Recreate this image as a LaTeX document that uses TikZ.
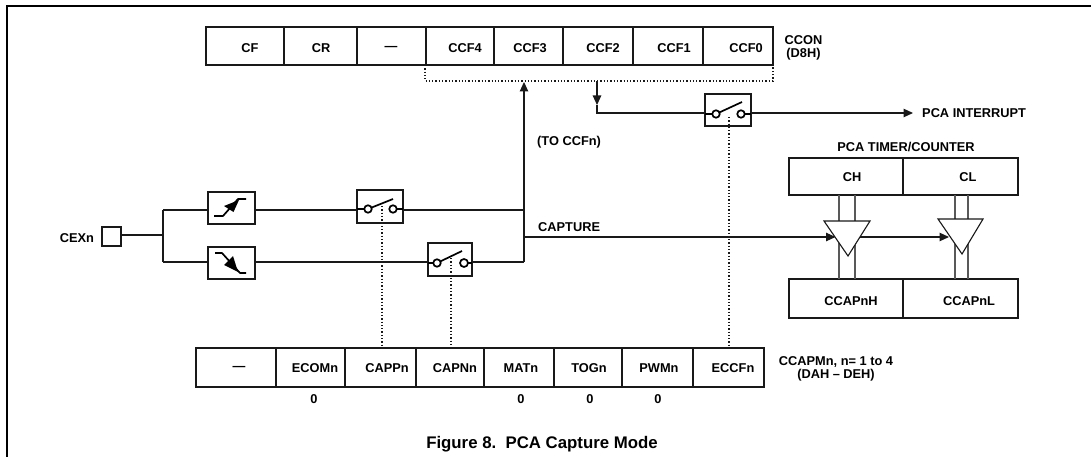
\documentclass[tikz,border=0pt]{standalone}
\usepackage{fontspec}
\setmainfont{Liberation Sans}
\usetikzlibrary{arrows.meta}
\tikzset{
  ink/.style={draw=black!90},
  cell/.style={ink,line width=1.6pt,rectangle,inner sep=0pt,outer sep=0pt,anchor=north west},
  lbl/.style={inner sep=0pt,font=\fontsize{12.8}{14.4}\selectfont\bfseries,text=black,align=center},
  lblw/.style={lbl,anchor=west},
  wire/.style={ink,line width=1.05pt},
  bus/.style={draw=black!65,line width=1.2pt},
  dots/.style={draw=black!90,line width=1.3pt,dash pattern=on 1.3pt off 2pt},
  ahead/.style={-{Triangle[length=9.5pt,width=8.5pt]}},
  swb/.style={cell,line width=1.7pt},
  pole/.style={circle,draw=black,line width=1.7pt,fill=white,minimum size=7.5pt,inner sep=0pt,outer sep=0pt},
  arm/.style={draw=black,line width=1.7pt},
  tri/.style={draw=black!90,line width=1.1pt,fill=white,line join=miter},
}
\newcommand{\regcell}[5]{% name, x1, x2, y1, y2
  \pgfmathsetmacro{\cw}{#3-#2}\pgfmathsetmacro{\ch}{#5-#4}
  \node[cell,minimum width=\cw pt,minimum height=\ch pt] (#1) at (#2,#4) {};}
\begin{document}
\begin{tikzpicture}[x=1pt,y=-1pt]
\useasboundingbox (0,0) rectangle (1091,457);
% frame
\coordinate (fa) at (7,457); \coordinate (fb) at (7,6); \coordinate (fc) at (1091,6);
\draw[black,line width=2.2pt,line join=miter] (fa) -- (fb) -- (fc);

% CCON register
\regcell{cf}{206}{284}{27}{65}
\regcell{cr}{284}{357}{27}{65}
\regcell{cblank}{357}{426}{27}{65}
\regcell{ccfd}{426}{494}{27}{65}
\regcell{ccfc}{494}{563}{27}{65}
\regcell{ccfb}{563}{633}{27}{65}
\regcell{ccfa}{633}{703}{27}{65}
\regcell{ccfz}{703}{773}{27}{65}
\node[lbl] (tcf) at (250,48.5) {CF};
\node[lbl] (tcr) at (321,48.5) {CR};
\node[lbl] (tbl) at (391,48.5) {—};
\node[lbl] (t4) at (465,48.5) {CCF4};
\node[lbl] (t3) at (530,48.5) {CCF3};
\node[lbl] (t2) at (603,48.5) {CCF2};
\node[lbl] (t1) at (674,48.5) {CCF1};
\node[lbl] (t0) at (746,48.5) {CCF0};
\node[lbl] (tccon) at (803.5,47.5) {CCON\\[-1.5pt](D8H)};

% CCAPM register
\regcell{ma}{196}{276}{348}{387}
\regcell{mb}{276}{345}{348}{387}
\regcell{mc}{345}{416}{348}{387}
\regcell{md}{416}{484}{348}{387}
\regcell{me}{484}{554}{348}{387}
\regcell{mf}{554}{622}{348}{387}
\regcell{mg}{622}{693}{348}{387}
\regcell{mh}{693}{764}{348}{387}
\node[lbl] (ta) at (239,368) {—};
\node[lbl] (tb) at (315,368) {ECOMn};
\node[lbl] (tc) at (387,368) {CAPPn};
\node[lbl] (td) at (455,368) {CAPNn};
\node[lbl] (te) at (521,368) {MATn};
\node[lbl] (tf) at (589,368) {TOGn};
\node[lbl] (tg) at (659,368) {PWMn};
\node[lbl] (th) at (733,368) {ECCFn};
\node[lbl] (z1) at (314,399) {0};
\node[lbl] (z2) at (521,399) {0};
\node[lbl] (z3) at (590,399) {0};
\node[lbl] (z4) at (658,399) {0};
\node[lbl] (tccapm) at (836,368.5) {CCAPMn, n= 1 to 4\\[-1.5pt](DAH – DEH)};
\node[inner sep=0pt,font=\fontsize{16.8}{19}\selectfont\bfseries,text=black] (fig) at (542,444) {Figure 8.\ \ PCA Capture Mode};

% CEXn and edge detectors
\node[lbl] (tcex) at (77,238) {CEXn};
\regcell{cex}{102}{121}{227}{246}
\regcell{rise}{208}{255}{192}{224}
\regcell{fall}{208}{255}{247}{279}
\coordinate (split) at (163,235);
\coordinate (sa) at (163,210);
\coordinate (sb) at (163,262);
\draw[wire] (cex.east |- split) -- (split);
\draw[wire] (sa) -- (sb);
\draw[wire] (sa) -- (rise.west |- sa);
\draw[wire] (sb) -- (fall.west |- sb);
\draw[line width=1.7pt,draw=black,line join=round] (214,216) -- (223,216) -- (238,199) -- (246,199);
\fill[black] (239,200) -- (233.5,212) -- (224,206) -- cycle;
\draw[line width=1.7pt,draw=black,line join=round] (215,253) -- (222,253) -- (240,273) -- (246,273);
\fill[black] (238,272) -- (224,265) -- (233,256) -- cycle;

% switches
\regcell{sw1}{357}{403}{190}{223}
\regcell{sw2}{428}{472}{243}{276}
\regcell{sw3}{705}{751}{94}{126}
\coordinate (q1) at (393,199); \coordinate (q2) at (462,251); \coordinate (q3) at (742,102);
\coordinate (a1) at (368,209); \coordinate (a2) at (437,263); \coordinate (a3) at (716,114);
\draw[arm] (a1) -- (q1);
\draw[arm] (a2) -- (q2);
\draw[arm] (a3) -- (q3);
\node[pole] (p1a) at (a1) {};
\node[pole] (p1b) at (393,209) {};
\node[pole] (p2a) at (a2) {};
\node[pole,minimum width=5.5pt,minimum height=8pt] (p2b) at (464,263) {};
\node[pole] (p3a) at (a3) {};
\node[pole] (p3b) at (741,114) {};
\draw[arm] (sw1.west |- p1a) -- (p1a);  \draw[arm] (p1b) -- (sw1.east |- p1b);
\draw[arm] (sw2.west |- p2a) -- (p2a);  \draw[arm] (p2b) -- (sw2.east |- p2b);
\draw[arm] (sw3.west |- p3a) -- (p3a);  \draw[arm] (p3b) -- (sw3.east |- p3b);

% dotted controls
\coordinate (d1) at (382,206); \coordinate (d2) at (451,258); \coordinate (d3) at (729,117);
\draw[dots] (d1) -- (d1 |- mc.north);
\draw[dots] (d2) -- (d2 |- md.north);
\draw[dots] (d3) -- (d3 |- mh.north);
% dotted bracket
\coordinate (bl) at (425,81); \coordinate (br) at (773,81);
\draw[dots] (bl |- ccfd.south) -- (bl) -- (br) -- (br |- ccfz.south);

% main wires
\coordinate (j1) at (524,210); \coordinate (j2) at (524,262); \coordinate (jc) at (524,237);
\coordinate (up) at (524,82);
\draw[wire] (rise.east |- j1) -- (sw1.west |- j1);
\draw[wire] (sw1.east |- j1) -- (j1);
\draw[wire] (fall.east |- j2) -- (sw2.west |- j2);
\draw[wire] (sw2.east |- j2) -- (j2);
\draw[wire,ahead] (j2) -- (j1) -- (up);
% interrupt path
\coordinate (dn0) at (597,81); \coordinate (dn1) at (597,105); \coordinate (dn2) at (597,113);
\draw[wire,ahead] (dn0) -- (dn1);
\draw[wire] (dn1) -- (dn2) -- (sw3.west |- dn2);
\coordinate (iend) at (913,113);
\draw[wire,ahead] (sw3.east |- iend) -- (iend);
\node[lblw] (tint) at (922,113) {PCA INTERRUPT};
\node[lblw] (tto) at (537,142) {(TO CCFn)};
\node[lblw] (tcap) at (538,227) {CAPTURE};

% timer/counter
\node[lbl] (ttc) at (906,147) {PCA TIMER/COUNTER};
\regcell{ch}{789}{903}{158}{195}
\regcell{cl}{903}{1018}{158}{195}
\regcell{cph}{789}{903}{279}{318}
\regcell{cpl}{903}{1018}{279}{318}
\node[lbl] (tch) at (852,177) {CH};
\node[lbl] (tcl) at (968,177) {CL};
\node[lbl] (tcph) at (851,301) {CCAPnH};
\node[lbl] (tcpl) at (969,301) {CCAPnL};
\draw[bus] (839,195) -- (839,279);
\draw[bus] (855,195) -- (855,279);
\draw[bus] (955,195) -- (955,279);
\draw[bus] (968,195) -- (968,279);
\draw[tri] (824,221) -- (870,221) -- (848,256) -- cycle;
\draw[tri] (938,219) -- (983,219) -- (962,254) -- cycle;
\coordinate (t1w) at (835.5,237); \coordinate (t1e) at (860,237); \coordinate (t2w) at (949,237);
\draw[wire,ahead] (jc) -- (t1w);
\draw[wire,ahead] (t1e) -- (t2w);
\end{tikzpicture}
\end{document}
